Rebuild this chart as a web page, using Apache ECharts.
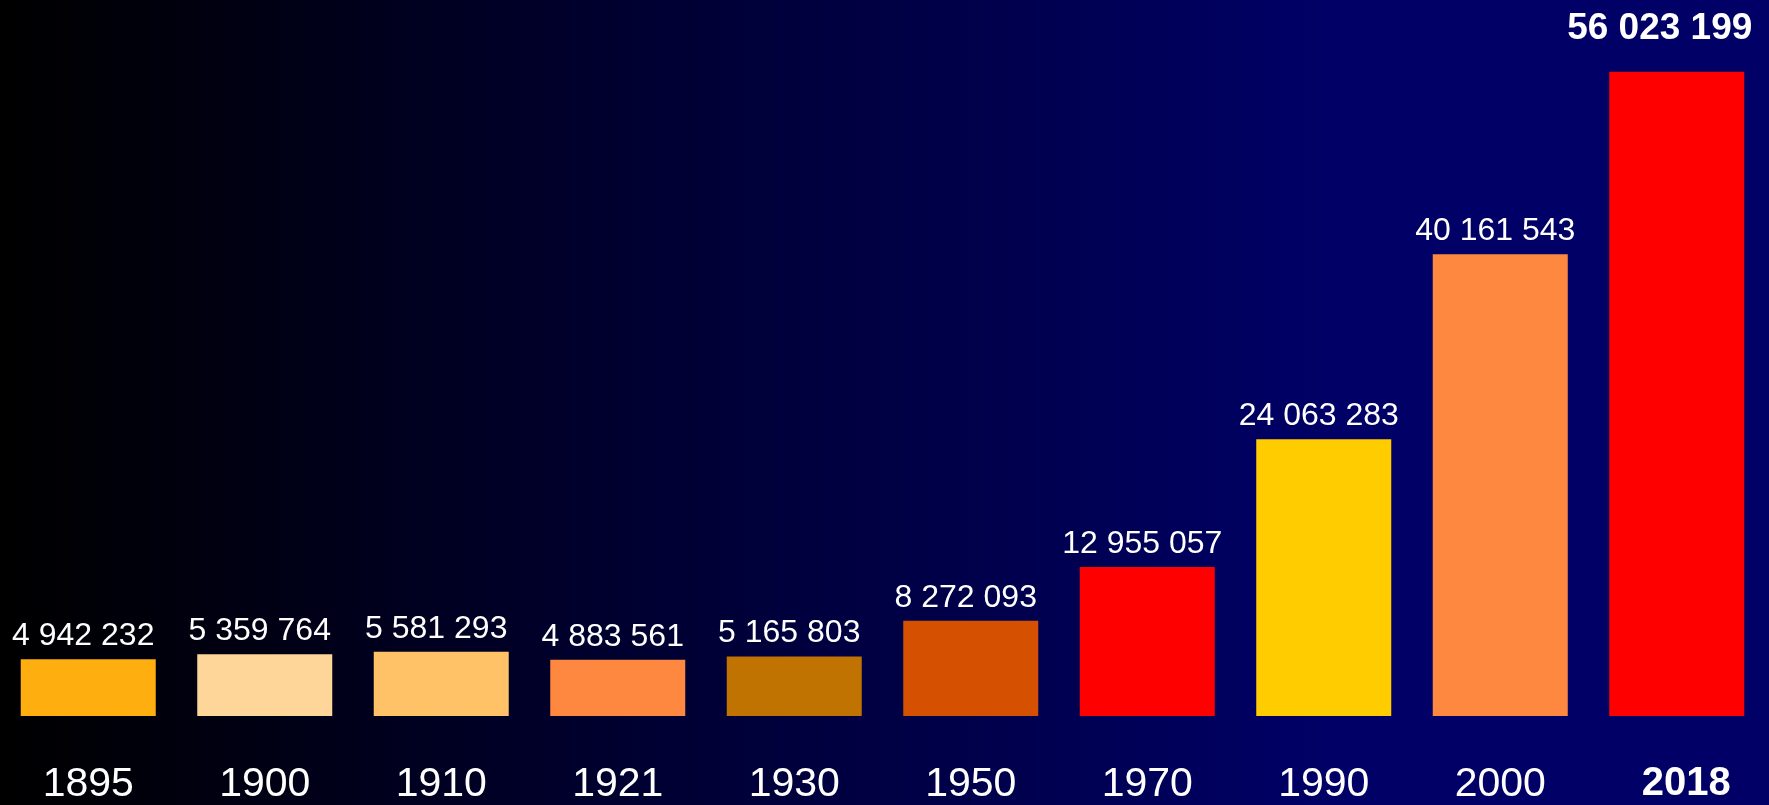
<!DOCTYPE html>
<html>
<head>
<meta charset="utf-8">
<script src="https://cdn.jsdelivr.net/npm/echarts@6/dist/echarts.min.js"></script>
<style>
html,body{margin:0;padding:0;width:1769px;height:805px;overflow:hidden;background:#000;}
#c{width:1769px;height:805px;}
</style>
</head>
<body>
<div id="c"></div>
<script>
const categories = ['1895','1900','1910','1921','1930','1950','1970','1990','2000','2018'];
const populations = [4942232, 5359764, 5581293, 4883561, 5165803, 8272093, 12955057, 24063283, 40161543, 56023199];
const barColors = ['#FFAE10','#FFD699','#FFC266','#FF8840','#C07300','#D55000','#FF0000','#FFCC00','#FF8840','#FF0000'];

function fmt(v){ return String(v).replace(/\B(?=(\d{3})+(?!\d))/g, ' '); }

const lastIdx = categories.length - 1;
const data = populations.map((v, i) => {
  const item = { value: v, itemStyle: { color: barColors[i] } };
  if (i === lastIdx) {
    item.label = { fontWeight: 'bold', fontSize: 37, distance: 24, offset: [-17, 0] };
  }
  return item;
});

const chart = echarts.init(document.getElementById('c'), null, {renderer: 'canvas'});
chart.setOption({
  backgroundColor: {
    type: 'linear', x: 0, y: 0, x2: 1, y2: 0,
    colorStops: [
      {offset: 0, color: '#000000'},
      {offset: 0.75, color: '#000066'},
      {offset: 1, color: '#000066'}
    ]
  },
  animation: false,
  grid: { left: 0, right: 4, top: 26, bottom: 89, containLabel: false },
  xAxis: {
    type: 'category',
    data: categories,
    axisLine: { show: false },
    axisTick: { show: false },
    axisLabel: {
      color: '#FFFFFF',
      fontFamily: 'Liberation Sans, Arial, sans-serif',
      fontSize: 41,
      margin: 48,
      interval: 0,
      formatter: function (v, i) { return i === lastIdx ? '{b|' + v + '}' : v; },
      rich: { b: { fontWeight: 'bold', fontSize: 40, color: '#FFFFFF', fontFamily: 'Liberation Sans, Arial, sans-serif', padding: [0, 0, 0, 19] } }
    }
  },
  yAxis: {
    type: 'value',
    min: 0,
    max: 60000000,
    show: false,
    splitLine: { show: false }
  },
  series: [{
    type: 'bar',
    data: data,
    barWidth: 135,
    label: {
      show: true,
      position: 'top',
      distance: 7,
      offset: [-5, 0],
      color: '#FFFFFF',
      fontFamily: 'Liberation Sans, Arial, sans-serif',
      fontSize: 32,
      formatter: function (p) { return fmt(p.value); }
    }
  }]
});
</script>
</body>
</html>
